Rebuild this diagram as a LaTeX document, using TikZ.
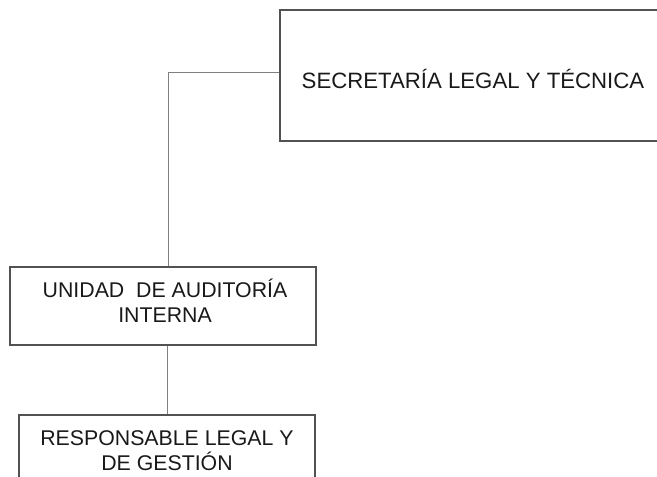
\documentclass[tikz,border=0pt]{standalone}
\usepackage{fontspec}
\setmainfont{Liberation Sans}
\begin{document}
\begin{tikzpicture}[x=1pt,y=-1pt,
  box/.style={draw=black!68, line width=1.4pt, rectangle, inner sep=0pt},
  conn/.style={draw=black!50, line width=1pt},
  lbl/.style={anchor=base, align=center, inner sep=0pt, text=black!90,
    font=\fontsize{21.3}{25}\selectfont}]
\useasboundingbox (0,0) rectangle (657,477);
\clip (0,0) rectangle (657,477);
\node[box, minimum width=386pt, minimum height=131pt] (top) at (473,75.5) {};
\node[box, minimum width=306pt, minimum height=78pt] (unit) at (163,306) {};
\node[box, minimum width=296pt, minimum height=90pt] (resp) at (167,460) {};
\node[lbl, font=\fontsize{22.2}{25}\selectfont] (toptxt) at (473,88) {SECRETARÍA LEGAL Y TÉCNICA};
\node[lbl] (unittxt) at (165,322) {UNIDAD~ DE AUDITORÍA\\INTERNA};
\node[lbl] (resptxt) at (167,470) {RESPONSABLE LEGAL Y\\DE GESTIÓN};
\draw[conn] ([yshift=3.5pt]top.west) -| ([xshift=5pt]unit.north);
\draw[conn] ([xshift=4pt]unit.south) -- ([xshift=0pt]resp.north);
\end{tikzpicture}
\end{document}
